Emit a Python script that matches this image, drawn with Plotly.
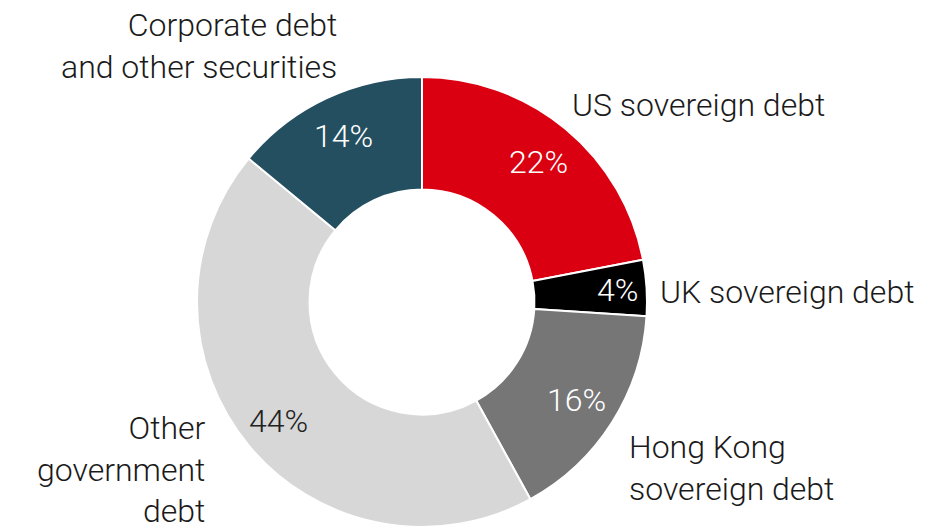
import math
import plotly.graph_objects as go

# ---- data ----
categories = ["US sovereign debt", "UK sovereign debt", "Hong Kong sovereign debt",
              "Other government debt", "Corporate debt and other securities"]
values = [22, 4, 16, 44, 14]
label_texts = ["US sovereign debt", "UK sovereign debt", "Hong Kong<br>sovereign debt",
               "Other<br>government<br>debt", "Corporate debt<br>and other securities"]
colors = ["#DB0011", "#000000", "#767676", "#D7D7D7", "#234F60"]
pct_colors = ["#FFFFFF", "#FFFFFF", "#FFFFFF", "#222222", "#FFFFFF"]

W, H = 947, 527
CX, R = 422, 225
CY = H - R  # from top, pie sits on bottom of domain

FONT = "Roboto, Arial, sans-serif"
FS = 32

fig = go.Figure(go.Pie(
    labels=categories,
    values=values,
    sort=False,
    direction="clockwise",
    rotation=0,
    hole=0.5,
    marker=dict(colors=colors, line=dict(color="#FFFFFF", width=2)),
    textinfo="none",
    hoverinfo="label+percent",
    showlegend=False,
    domain=dict(x=[(CX - R) / W, (CX + R) / W], y=[0, 2 * R / H]),
))

total = sum(values)
annotations = []
cum = 0
radial = [0.81, 0.87, 0.815, 0.83, 0.815]
for i, v in enumerate(values):
    mid = (cum + v / 2) / total * 2 * math.pi
    cum += v
    r = R * radial[i]
    px = CX + r * math.sin(mid)
    py = CY - r * math.cos(mid)
    annotations.append(dict(
        x=px / W, y=1 - py / H, xref="paper", yref="paper",
        text=f"{round(v / total * 100)}%", showarrow=False,
        xanchor="center", yanchor="middle",
        font=dict(family=FONT, size=FS, color=pct_colors[i], weight=300),
    ))

# outside category labels (pixel positions from top-left)
label_pos = [
    (570, 105, "left"),
    (658, 292, "left"),
    (627, 468, "left"),
    (208, 469, "right"),
    (339, 46, "right"),
]
for txt, (lx, ly, side) in zip(label_texts, label_pos):
    annotations.append(dict(
        x=lx / W, y=1 - ly / H, xref="paper", yref="paper",
        text=txt, showarrow=False, align=side,
        xanchor=side, yanchor="middle",
        font=dict(family=FONT, size=FS, color="#1A1A1A", weight=300),
    ))

fig.update_layout(
    width=W, height=H,
    margin=dict(l=0, r=0, t=0, b=0),
    paper_bgcolor="#FFFFFF", plot_bgcolor="#FFFFFF",
    annotations=annotations,
)

fig.write_html("out.html",
               config={"displayModeBar": False},
               post_script="document.body.style.margin='0';document.body.style.overflow='hidden';")
